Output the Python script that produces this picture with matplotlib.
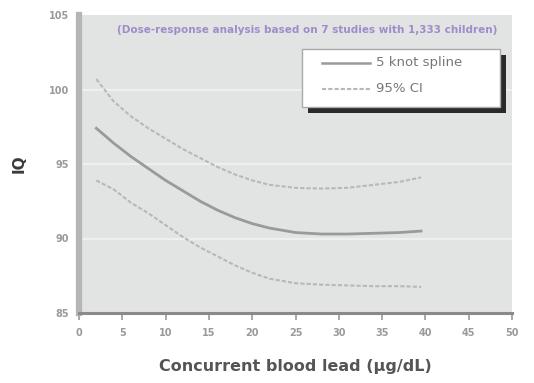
import matplotlib
matplotlib.use("Agg")
import matplotlib.pyplot as plt
from matplotlib.patches import Rectangle
from matplotlib.lines import Line2D

# Data
blood_lead = [2, 4, 6, 8, 10, 12, 14, 16, 18, 20, 22, 25, 28, 31, 34, 37, 39.5]
spline = [97.4, 96.4, 95.5, 94.7, 93.9, 93.2, 92.5, 91.9, 91.4, 91.0, 90.7,
          90.4, 90.3, 90.3, 90.35, 90.4, 90.5]
ci_upper = [100.7, 99.2, 98.2, 97.4, 96.7, 96.0, 95.4, 94.8, 94.3, 93.9, 93.6,
            93.4, 93.35, 93.4, 93.6, 93.8, 94.1]
ci_lower = [93.9, 93.3, 92.4, 91.7, 90.9, 90.1, 89.4, 88.8, 88.2, 87.7, 87.3,
            87.0, 86.9, 86.85, 86.8, 86.8, 86.75]
x_ticks = [0, 5, 10, 15, 20, 25, 30, 35, 40, 45, 50]
y_ticks = [85, 90, 95, 100, 105]
legend_labels = ["5 knot spline", "95% CI"]
note = "(Dose-response analysis based on 7 studies with 1,333 children)"

fig = plt.figure(figsize=(5.34, 3.83), dpi=100)
ax = fig.add_axes([79/534, 70/383, 433/534, 298/383])
ax.set_facecolor("#e2e3e3")
ax.set_xlim(0, 50)
ax.set_ylim(85, 105)

for yv in [90, 95, 100]:
    ax.axhline(yv, color="#efefef", lw=1.6, zorder=1)

ax.plot(blood_lead, ci_upper, color="#b8b8b8", lw=1.5, ls=(0, (2, 1)), zorder=3)
ax.plot(blood_lead, ci_lower, color="#b8b8b8", lw=1.5, ls=(0, (2, 1)), zorder=3)
ax.plot(blood_lead, spline, color="#9a9a9a", lw=2.0, zorder=4)

for s in ["top", "right"]:
    ax.spines[s].set_visible(False)
ax.spines["left"].set_color("#b5b5b5")
ax.spines["left"].set_linewidth(4.5)
ax.spines["bottom"].set_color("#8a8a8a")
ax.spines["bottom"].set_linewidth(2.2)

ax.set_xticks(x_ticks)
ax.set_yticks(y_ticks)
ax.tick_params(axis="x", direction="out", length=5, width=1.2, color="#9a9a9a",
               labelsize=7, labelcolor="#9a9a9a", pad=6)
ax.tick_params(axis="y", length=0, labelsize=7, labelcolor="#9a9a9a", pad=7)
for lab in ax.get_xticklabels() + ax.get_yticklabels():
    lab.set_fontweight("bold")

ax.set_xlabel("Concurrent blood lead (µg/dL)", fontsize=11.5, fontweight="bold",
              color="#555555", labelpad=15)
ax.set_ylabel("IQ", fontsize=11, fontweight="bold", color="#3a3a3a")
ax.yaxis.set_label_coords(-0.12, 0.5)

ax.text(0.527, 0.95, note, transform=ax.transAxes, ha="center", va="center",
        fontsize=7.5, fontweight="bold", color="#a08cca", zorder=5)

# legend box with shadow
bx0, by0, bw, bh = 0.515, 0.691, 0.457, 0.195
ax.add_patch(Rectangle((bx0 + 0.014, by0 - 0.02), bw, bh, transform=ax.transAxes,
                       facecolor="#2a2a2a", edgecolor="none", zorder=6))
ax.add_patch(Rectangle((bx0, by0), bw, bh, transform=ax.transAxes,
                       facecolor="white", edgecolor="#aaaaaa", lw=1.0, zorder=7))
ax.add_line(Line2D([0.561, 0.672], [0.839, 0.839], transform=ax.transAxes,
                   color="#9a9a9a", lw=1.8, zorder=8))
ax.add_line(Line2D([0.561, 0.672], [0.752, 0.752], transform=ax.transAxes,
                   color="#b8b8b8", lw=1.5, ls=(0, (2, 1)), zorder=8))
ax.text(0.686, 0.839, legend_labels[0], transform=ax.transAxes, va="center",
        fontsize=9.5, color="#777777", zorder=8)
ax.text(0.686, 0.752, legend_labels[1], transform=ax.transAxes, va="center",
        fontsize=9.5, color="#777777", zorder=8)

fig.savefig("out.png", dpi=100)
